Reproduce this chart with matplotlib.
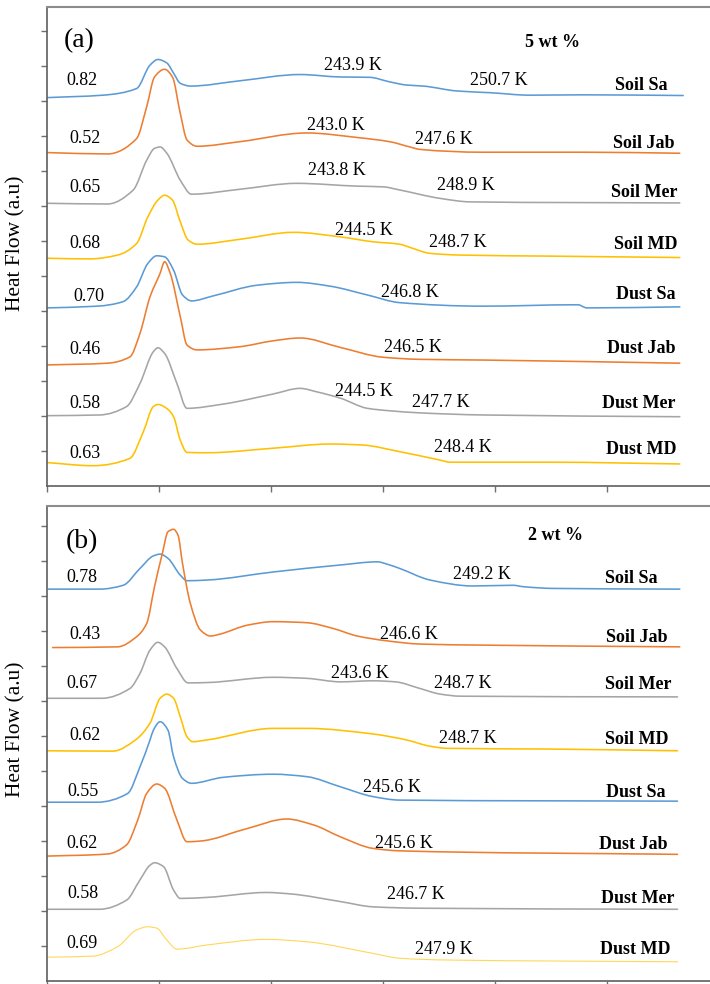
import matplotlib.pyplot as plt
from matplotlib.path import Path
from matplotlib.patches import PathPatch

plt.rcParams["font.family"] = ["Liberation Serif", "DejaVu Serif"]

SAMPLES = ["Soil Sa", "Soil Jab", "Soil Mer", "Soil MD",
           "Dust Sa", "Dust Jab", "Dust Mer", "Dust MD"]
COLORS = ["#5B9BD5", "#ED7D31", "#A5A5A5", "#FFC000",
          "#5B9BD5", "#ED7D31", "#A5A5A5", "#FFC000"]

# ---- (a) 5 wt % : stacked heat-flow traces (x in axis divisions, y in a.u.)
A_SOIL_SA = ([0.00, 0.50, 0.80, 0.92, 0.99, 1.07, 1.13, 1.19, 1.28, 1.72, 2.26, 2.62, 2.88, 3.06, 3.21, 3.36, 3.66, 3.96, 4.31, 4.79, 5.68],
             [11.10, 11.17, 11.36, 12.03, 12.19, 12.09, 11.80, 11.51, 11.43, 11.58, 11.76, 11.69, 11.68, 11.55, 11.46, 11.43, 11.29, 11.24, 11.17, 11.18, 11.16])
A_SOIL_JAB = ([0.00, 0.54, 0.80, 0.89, 0.96, 1.05, 1.12, 1.19, 1.25, 1.34, 1.72, 2.32, 2.77, 3.06, 3.24, 3.33, 3.89, 4.79, 5.65],
              [9.53, 9.49, 9.93, 10.84, 11.69, 11.91, 11.69, 10.65, 9.89, 9.71, 9.84, 10.09, 9.96, 9.84, 9.69, 9.62, 9.54, 9.54, 9.51])
A_SOIL_MER = ([0.00, 0.54, 0.77, 0.89, 0.96, 1.01, 1.07, 1.19, 1.29, 1.72, 2.23, 2.77, 3.00, 3.15, 3.51, 3.78, 5.65],
              [8.08, 8.06, 8.46, 9.31, 9.65, 9.69, 9.51, 8.74, 8.34, 8.48, 8.65, 8.57, 8.55, 8.46, 8.22, 8.12, 8.09])
A_SOIL_MD = ([0.00, 0.38, 0.63, 0.80, 0.90, 0.99, 1.05, 1.12, 1.19, 1.26, 1.34, 1.72, 2.20, 2.62, 2.91, 3.15, 3.24, 3.42, 3.69, 4.49, 5.65],
             [6.51, 6.49, 6.60, 6.93, 7.69, 8.17, 8.31, 8.17, 7.55, 7.03, 6.91, 7.05, 7.25, 7.12, 6.98, 6.91, 6.82, 6.65, 6.60, 6.57, 6.53])
A_DUST_SA = ([0.00, 0.45, 0.68, 0.80, 0.90, 0.98, 1.05, 1.13, 1.21, 1.29, 1.48, 1.88, 2.23, 2.53, 2.86, 3.15, 3.89, 4.74, 4.82, 5.65],
             [5.09, 5.14, 5.27, 5.69, 6.36, 6.58, 6.55, 6.17, 5.46, 5.29, 5.43, 5.74, 5.82, 5.71, 5.46, 5.24, 5.14, 5.18, 5.09, 5.12])
A_DUST_JAB = ([0.00, 0.54, 0.74, 0.83, 0.92, 1.01, 1.05, 1.10, 1.19, 1.25, 1.34, 1.72, 2.02, 2.26, 2.62, 3.00, 3.33, 3.89, 5.65],
              [3.46, 3.51, 3.69, 4.36, 5.41, 6.08, 6.41, 6.08, 4.84, 4.03, 3.89, 3.98, 4.15, 4.23, 3.96, 3.68, 3.62, 3.60, 3.51])
A_DUST_MER = ([0.00, 0.47, 0.71, 0.83, 0.95, 0.99, 1.05, 1.16, 1.25, 1.57, 2.02, 2.26, 2.41, 2.62, 2.86, 3.06, 3.33, 3.89, 5.65],
              [2.01, 2.03, 2.27, 2.93, 3.84, 3.95, 3.79, 2.93, 2.22, 2.34, 2.63, 2.79, 2.69, 2.51, 2.22, 2.15, 2.09, 2.03, 1.98])
A_DUST_MD = ([0.00, 0.41, 0.74, 0.86, 0.95, 0.99, 1.08, 1.13, 1.19, 1.25, 1.43, 2.02, 2.53, 2.82, 3.15, 3.51, 3.60, 4.49, 5.65],
             [0.67, 0.58, 0.79, 1.55, 2.27, 2.33, 2.19, 1.98, 1.31, 0.96, 0.95, 1.08, 1.20, 1.17, 0.98, 0.74, 0.68, 0.68, 0.63])

# ---- (b) 2 wt %
B_SOIL_SA = ([0.01, 0.47, 0.68, 0.83, 0.95, 1.01, 1.08, 1.19, 1.25, 1.43, 2.02, 2.62, 2.95, 3.04, 3.15, 3.42, 3.80, 4.16, 4.25, 4.52, 5.65],
             [11.20, 11.20, 11.31, 11.79, 12.15, 12.20, 12.08, 11.60, 11.44, 11.46, 11.69, 11.89, 11.98, 11.91, 11.79, 11.46, 11.29, 11.31, 11.27, 11.22, 11.20])
B_SOIL_JAB = ([0.05, 0.63, 0.80, 0.89, 0.96, 1.03, 1.08, 1.13, 1.17, 1.21, 1.28, 1.37, 1.46, 1.54, 1.79, 2.02, 2.32, 2.55, 2.77, 3.04, 3.33, 3.87, 5.65],
              [9.53, 9.55, 9.84, 10.22, 11.27, 12.22, 12.84, 12.91, 12.74, 11.93, 10.79, 10.03, 9.86, 9.91, 10.17, 10.27, 10.24, 10.08, 9.86, 9.72, 9.63, 9.60, 9.55])
B_SOIL_MER = ([0.00, 0.49, 0.74, 0.83, 0.92, 0.99, 1.05, 1.16, 1.26, 1.43, 2.02, 2.32, 2.62, 2.91, 3.11, 3.33, 3.51, 3.69, 5.63],
              [8.08, 8.08, 8.36, 8.79, 9.46, 9.68, 9.55, 8.93, 8.52, 8.53, 8.68, 8.65, 8.55, 8.58, 8.55, 8.36, 8.20, 8.14, 8.12])
B_SOIL_MD = ([0.00, 0.59, 0.79, 0.92, 1.01, 1.07, 1.13, 1.19, 1.25, 1.30, 1.43, 2.02, 2.32, 2.91, 3.21, 3.42, 3.57, 4.46, 5.63],
             [6.58, 6.57, 6.89, 7.37, 8.08, 8.20, 8.08, 7.55, 6.98, 6.84, 6.89, 7.22, 7.22, 7.06, 6.89, 6.71, 6.65, 6.63, 6.58])
B_DUST_SA = ([0.00, 0.45, 0.72, 0.83, 0.92, 0.95, 1.01, 1.08, 1.13, 1.21, 1.29, 1.57, 2.02, 2.32, 2.62, 2.91, 3.15, 5.63],
             [5.11, 5.11, 5.36, 6.12, 6.89, 7.17, 7.41, 7.17, 6.41, 5.79, 5.65, 5.82, 5.91, 5.84, 5.55, 5.27, 5.17, 5.14])
B_DUST_JAB = ([0.00, 0.54, 0.71, 0.81, 0.89, 0.98, 1.05, 1.16, 1.25, 1.37, 1.79, 2.14, 2.38, 2.62, 2.91, 3.15, 5.63],
              [3.57, 3.63, 3.89, 4.60, 5.36, 5.63, 5.51, 4.60, 3.98, 4.00, 4.36, 4.63, 4.46, 4.12, 3.79, 3.72, 3.62])
B_DUST_MER = ([0.00, 0.47, 0.71, 0.83, 0.92, 0.96, 1.04, 1.13, 1.19, 1.43, 1.96, 2.17, 2.62, 2.91, 3.33, 5.63],
              [2.05, 2.05, 2.31, 2.89, 3.31, 3.38, 3.27, 2.60, 2.36, 2.39, 2.53, 2.49, 2.27, 2.12, 2.08, 2.05])
B_DUST_MD = ([0.00, 0.41, 0.63, 0.80, 0.90, 0.98, 1.07, 1.16, 1.43, 1.96, 2.32, 2.91, 3.15, 3.57, 5.63],
             [0.68, 0.71, 0.98, 1.46, 1.55, 1.51, 1.17, 0.91, 1.03, 1.19, 1.12, 0.79, 0.65, 0.60, 0.55])

A_CURVES = [A_SOIL_SA, A_SOIL_JAB, A_SOIL_MER, A_SOIL_MD, A_DUST_SA, A_DUST_JAB, A_DUST_MER, A_DUST_MD]
B_CURVES = [B_SOIL_SA, B_SOIL_JAB, B_SOIL_MER, B_SOIL_MD, B_DUST_SA, B_DUST_JAB, B_DUST_MER, B_DUST_MD]

# frozen fraction written at the left of each trace
A_FRACTION = [0.82, 0.52, 0.65, 0.68, 0.70, 0.46, 0.58, 0.63]
B_FRACTION = [0.78, 0.43, 0.67, 0.62, 0.55, 0.62, 0.58, 0.69]

# characteristic temperatures (K) per sample
A_TEMPS = [[243.9, 250.7], [243.0, 247.6], [243.8, 248.9], [244.5, 248.7],
           [246.8], [246.5], [244.5, 247.7], [248.4]]
B_TEMPS = [[249.2], [246.6], [243.6, 248.7], [248.7],
           [245.6], [245.6], [246.7], [247.9]]

# label placement (x, y in axis units)
A_FRAC_POS = [(0.31, 11.58), (0.34, 9.94), (0.34, 8.52), (0.34, 6.92),
              (0.37, 5.43), (0.34, 3.89), (0.34, 2.36), (0.34, 0.94)]
B_FRAC_POS = [(0.31, 11.54), (0.34, 9.91), (0.31, 8.49), (0.34, 7.03),
              (0.32, 5.43), (0.31, 3.94), (0.32, 2.49), (0.31, 1.06)]
A_TEMP_POS = [[(2.73, 12.03), (4.03, 11.60)], [(2.58, 10.31), (3.54, 9.89)],
              [(2.59, 9.03), (3.74, 8.60)], [(2.83, 7.29), (3.67, 6.97)],
              [(3.24, 5.54)], [(3.27, 3.97)], [(2.83, 2.69), (3.52, 2.40)],
              [(3.71, 1.09)]]
B_TEMP_POS = [[(3.88, 11.63)], [(3.23, 9.89)], [(2.79, 8.80), (3.71, 8.49)],
              [(3.76, 6.94)], [(3.08, 5.54)], [(3.19, 3.94)], [(3.29, 2.46)],
              [(3.54, 0.91)]]
A_NAME_POS = [(5.54, 11.46), (5.60, 9.80), (5.63, 8.40), (5.63, 6.89),
              (5.61, 5.46), (5.61, 3.94), (5.61, 2.37), (5.62, 1.03)]
B_NAME_POS = [(5.45, 11.51), (5.54, 9.83), (5.58, 8.46), (5.55, 6.89),
              (5.52, 5.40), (5.54, 3.91), (5.60, 2.37), (5.57, 0.91)]


def smooth_path(xs, ys):
    """Smoothed line through the points using monotone cubic (Fritsch-Carlson) tangents."""
    n = len(xs)
    h = [xs[k + 1] - xs[k] for k in range(n - 1)]
    d = [(ys[k + 1] - ys[k]) / h[k] for k in range(n - 1)]
    m = [d[0]] + [0.0] * (n - 2) + [d[-1]]
    for k in range(1, n - 1):
        if d[k - 1] * d[k] > 0:
            w1 = 2 * h[k] + h[k - 1]
            w2 = h[k] + 2 * h[k - 1]
            m[k] = (w1 + w2) / (w1 / d[k - 1] + w2 / d[k])
    verts = [(xs[0], ys[0])]
    codes = [Path.MOVETO]
    for k in range(n - 1):
        verts += [(xs[k] + h[k] / 3, ys[k] + m[k] * h[k] / 3),
                  (xs[k + 1] - h[k] / 3, ys[k + 1] - m[k + 1] * h[k] / 3),
                  (xs[k + 1], ys[k + 1])]
        codes += [Path.CURVE4] * 3
    return Path(verts, codes)


def draw_panel(ax, curves, fractions, frac_pos, temps, temp_pos, name_pos,
               ymax, tag, tag_pos, wt, wt_pos, faint_last=False):
    ax.set_xlim(0, 6)
    ax.set_ylim(0, ymax)
    for i, (xs, ys) in enumerate(curves):
        color, lw = COLORS[i], 1.15
        if faint_last and i == len(curves) - 1:
            color, lw = "#FFD757", 0.8
        ax.add_patch(PathPatch(smooth_path(xs, ys), fill=False, edgecolor=color,
                               linewidth=lw, capstyle="round", joinstyle="round"))
        ax.text(*frac_pos[i], f"{fractions[i]:.2f}", ha="center", va="center", fontsize=13)
        for t, pos in zip(temps[i], temp_pos[i]):
            ax.text(*pos, f"{t:.1f} K", ha="center", va="center", fontsize=13)
        ax.text(*name_pos[i], SAMPLES[i], ha="right", va="center",
                fontsize=13, fontweight="bold")
    ax.text(*tag_pos, tag, ha="center", va="center", fontsize=20)
    ax.text(*wt_pos, wt, ha="center", va="center", fontsize=13, fontweight="bold")

    ax.set_xticks(range(0, 7))
    ax.set_yticks(range(1, 14))
    ax.tick_params(axis="both", direction="out", length=4.5, width=1.0,
                   colors="#6f6f6f", labelleft=False, labelbottom=False)
    for side in ("left", "bottom"):
        ax.spines[side].set_color("#5f5f5f")
        ax.spines[side].set_linewidth(1.2)
    ax.spines["top"].set_color("#8c8c8c")
    ax.spines["top"].set_linewidth(1.5)
    ax.spines["right"].set_visible(False)


fig = plt.figure(figsize=(7.1, 9.84), dpi=100)
ax_a = fig.add_axes([47 / 710, 1 - 486 / 984, 672 / 710, 479 / 984])
ax_b = fig.add_axes([47 / 710, 1 - 981 / 984, 672 / 710, 475.5 / 984])

draw_panel(ax_a, A_CURVES, A_FRACTION, A_FRAC_POS, A_TEMPS, A_TEMP_POS, A_NAME_POS,
           13.69, "(a)", (0.29, 12.72), "5 wt %", (4.51, 12.68))
draw_panel(ax_b, B_CURVES, B_FRACTION, B_FRAC_POS, B_TEMPS, B_TEMP_POS, B_NAME_POS,
           13.59, "(b)", (0.31, 12.55), "2 wt %", (4.54, 12.74), faint_last=True)

fig.text(16 / 710, 1 - 243 / 984, "Heat Flow (a.u)", rotation=90,
         ha="center", va="center", fontsize=15.5)
fig.text(16 / 710, 1 - 729 / 984, "Heat Flow (a.u)", rotation=90,
         ha="center", va="center", fontsize=15.5)

fig.savefig("out.png", dpi=100, facecolor="white")
